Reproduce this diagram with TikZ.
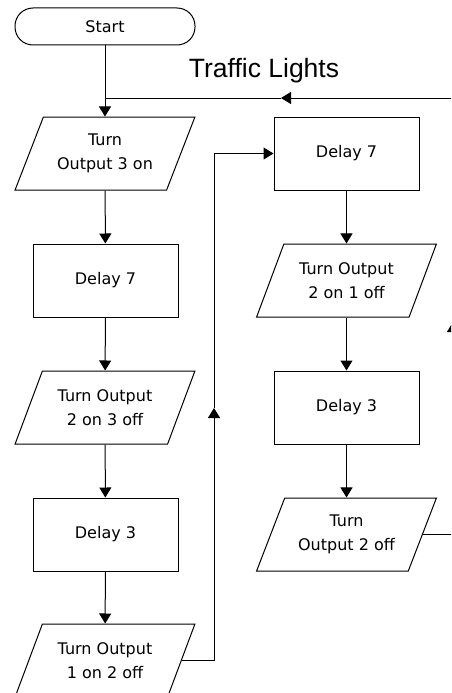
\documentclass[tikz,border=0pt]{standalone}
\usepackage{fontspec}
\setmainfont{DejaVu Sans}
\newfontfamily\headfont{Liberation Sans}
\usetikzlibrary{shapes.geometric,arrows.meta}
\tikzset{
  flow/.style={-{Triangle[length=10pt,width=12pt]}},
  box/.style={draw,rectangle,minimum width=145pt,minimum height=73pt,align=center},
  io/.style={draw,trapezium,trapezium left angle=64,trapezium right angle=116,trapezium stretches=true,minimum width=180pt,minimum height=73pt,inner xsep=0pt,align=center},
  term/.style={draw,rectangle,rounded corners=18pt,minimum width=180pt,minimum height=37pt}
}
\begin{document}
\begin{tikzpicture}[x=1pt,y=-1pt,line width=1pt,font=\fontsize{16}{23.5}\selectfont]
                \useasboundingbox (0,0) rectangle (451,693);
                \clip (0,0) rectangle (451,693);
                \node[term] (start) at (105,26.5) {Start};
                \node[io] (out3) at (105,153.5) {Turn\\Output 3 on};
                \node[box] (wait7) at (105.5,280.5) {Delay 7};
                \node[io] (out2) at (105,407.5) {Turn Output\\2 on 3 off};
                \node[box] (wait3) at (105.5,534.5) {Delay 3};
                \node[io] (out1) at (105,660.5) {Turn Output\\1 on 2 off};
                \node[box] (waitb7) at (346.5,153.5) {Delay 7};
                \node[io] (outb2) at (346.5,280.5) {Turn Output\\2 on 1 off};
                \node[box] (waitb3) at (346.5,407.5) {Delay 3};
                \node[io] (outoff) at (346.5,534.5) {Turn\\Output 2 off};
                \node[font=\headfont\fontsize{26.5}{30}\selectfont] (title) at (264,70.5) {Traffic Lights};

                \coordinate (join) at (105,98);
                \coordinate (back) at (214,408);
                \coordinate (rise) at (453,322);
                \coordinate (top) at (281,98);

                \draw [flow] (start)--(out3);
                \draw [flow] (out3)--(wait7);
                \draw [flow] (wait7)--(out2);
                \draw [flow] (out2)--(wait3);
                \draw [flow] (wait3)--(out1);
                \draw [flow] (waitb7)--(outb2);
                \draw [flow] (outb2)--(waitb3);
                \draw [flow] (waitb3)--(outoff);

                \draw [flow] (out1.east)-|(back);
                \draw [flow] (back)|-(waitb7.west);
                \draw [flow] (outoff.east)-|(rise);
                \draw [flow] (rise)|-(top);
                \draw (top)--(join);
            \end{tikzpicture}
\end{document}
